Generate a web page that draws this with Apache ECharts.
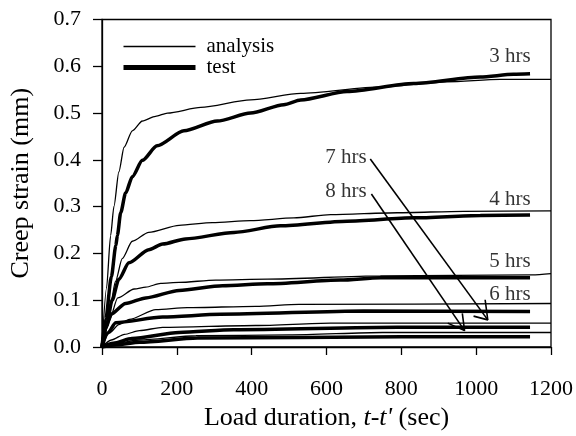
<!DOCTYPE html>
<html><head><meta charset="utf-8">
<script src="https://cdn.jsdelivr.net/npm/echarts@6/dist/echarts.min.js"></script>
<style>html,body{margin:0;padding:0;background:#fff}#c{width:576px;height:436px}</style>
</head><body><div id="c"></div>
<script>
// x tick labels (sec) and y tick labels (mm)
const xTicks = [0, 200, 400, 600, 800, 1000, 1200];
const yTicks = [0.0, 0.1, 0.2, 0.3, 0.4, 0.5, 0.6, 0.7];

// analysis curves [t (sec), creep strain (mm)]
const analysis3h = [[0,0],[12,0.125],[23,0.238],[32,0.301],[45,0.374],[59,0.427],[81,0.462],[108,0.483],[143,0.493],[175,0.500],[264,0.512],[397,0.528],[531,0.542],[744,0.556],[922,0.567],[1064,0.572],[1200,0.572]];
const analysis4h = [[0,0],[12,0.05],[23,0.091],[36,0.140],[54,0.189],[81,0.226],[125,0.245],[206,0.260],[295,0.266],[397,0.270],[513,0.276],[611,0.283],[789,0.287],[966,0.290],[1200,0.291]];
const analysis5h = [[0,0],[19,0.055],[42,0.105],[86,0.124],[117,0.128],[157,0.136],[206,0.138],[304,0.143],[442,0.145],[744,0.152],[1150,0.154],[1200,0.157]];
const analysis6h = [[0,0],[20,0.030],[45,0.048],[73,0.059],[144,0.080],[228,0.084],[411,0.087],[526,0.091],[1200,0.093]];
const analysis7h = [[0,0],[25,0.015],[60,0.027],[100,0.035],[162,0.042],[411,0.046],[611,0.051],[1200,0.051]];
const analysis8h = [[0,0],[30,0.007],[100,0.015],[251,0.024],[500,0.026],[750,0.031],[1200,0.031]];

// test curves [t (sec), creep strain (mm)]
const test3h = [[0,0],[10,0.06],[25,0.15],[37,0.217],[41,0.238],[50,0.287],[63,0.329],[81,0.364],[108,0.399],[147,0.430],[219,0.462],[308,0.483],[397,0.500],[486,0.518],[531,0.528],[655,0.546],[833,0.563],[1011,0.577],[1100,0.583],[1144,0.584]];
const test4h = [[0,0],[12,0.045],[27,0.100],[45,0.145],[72,0.180],[125,0.208],[162,0.220],[223,0.231],[353,0.245],[477,0.259],[655,0.269],[833,0.276],[1011,0.281],[1144,0.282]];
const test5h = [[0,0],[10,0.04],[24,0.070],[63,0.093],[117,0.105],[206,0.121],[322,0.131],[442,0.135],[637,0.143],[744,0.148],[1144,0.148]];
const test6h = [[0,0],[15,0.030],[37,0.052],[162,0.064],[317,0.070],[699,0.077],[1144,0.076]];
const test7h = [[0,0],[30,0.008],[80,0.018],[206,0.031],[352,0.037],[789,0.042],[1144,0.042]];
const test8h = [[0,0],[40,0.005],[100,0.010],[255,0.019],[800,0.022],[1144,0.022]];

// annotation labels and arrows (data coordinates)
const curveLabels = [['3 hrs',1090,0.620],['4 hrs',1090,0.315],['5 hrs',1090,0.182],['6 hrs',1090,0.112],['7 hrs',652,0.406],['8 hrs',652,0.332]];
const arrow7h = [[717,0.402],[1031,0.058]];
const arrow7hHead = [[1024,0.101],[1031,0.058],[993,0.066]];
const arrow8h = [[720,0.327],[969,0.035]];
const arrow8hHead = [[963,0.072],[969,0.035],[924,0.051]];

const FONT = "'Liberation Serif','Times New Roman',serif";
const analysisSets = [analysis3h, analysis4h, analysis5h, analysis6h, analysis7h, analysis8h];
const testSets = [test3h, test4h, test5h, test6h, test7h, test8h];

const series = [];
testSets.forEach(d => series.push({
  name: 'test', type: 'line', data: d, symbol: 'none', smooth: 0.25, smoothMonotone: 'x',
  lineStyle: { color: '#000', width: 3.5 }, itemStyle: { color: '#000' }, z: 2, animation: false
}));
analysisSets.forEach(d => series.push({
  name: 'analysis', type: 'line', data: d, symbol: 'none', smooth: 0.25, smoothMonotone: 'x',
  lineStyle: { color: '#000', width: 1.3 }, itemStyle: { color: '#000' }, z: 3, animation: false
}));
[arrow7h, arrow7hHead, arrow8h, arrow8hHead].forEach(d => series.push({
  type: 'line', data: d, symbol: 'none', lineStyle: { color: '#000', width: 1.6 }, z: 5, animation: false, silent: true
}));
series.push({
  type: 'scatter', symbolSize: 0, z: 6, animation: false, silent: true,
  data: curveLabels.map(l => ({ name: l[0], value: [l[1], l[2]] })),
  label: { show: true, position: 'inside', formatter: p => p.name, color: '#000', fontFamily: FONT, fontSize: 21 }
});

const chart = echarts.init(document.getElementById('c'), null, { renderer: 'canvas' });
chart.setOption({
  backgroundColor: '#fff',
  animation: false,
  grid: { left: 101, right: 25, top: 19.5, bottom: 82.7, show: true, borderColor: '#000', borderWidth: 1.3, containLabel: false },
  legend: {
    data: [
      { name: 'analysis', itemStyle: { opacity: 0 }, lineStyle: { width: 1.5, color: '#000' } },
      { name: 'test', itemStyle: { opacity: 0 }, lineStyle: { width: 5, color: '#000' } }
    ],
    orient: 'vertical', left: 116, top: 31, itemWidth: 72, itemHeight: 14, itemGap: 0,
    itemStyle: { opacity: 0 },
    textStyle: { fontFamily: FONT, fontSize: 21, color: '#000', padding: [0, 0, 0, 6] }
  },
  xAxis: {
    type: 'value', min: xTicks[0], max: xTicks[xTicks.length - 1], interval: xTicks[1] - xTicks[0],
    name: "Load duration, {i|t-t'} (sec)", nameLocation: 'middle', nameGap: 58,
    nameTextStyle: { fontFamily: FONT, fontSize: 26, color: '#000', rich: { i: { fontFamily: FONT, fontSize: 26, fontStyle: 'italic', color: '#000' } } },
    axisLine: { lineStyle: { color: '#000', width: 1.3 } },
    axisTick: { inside: false, length: 8, lineStyle: { color: '#000', width: 1.3 } },
    axisLabel: { margin: 31, fontFamily: FONT, fontSize: 22, color: '#000', formatter: v => String(v) },
    splitLine: { show: false }
  },
  yAxis: {
    type: 'value', min: yTicks[0], max: yTicks[yTicks.length - 1], interval: 0.1,
    name: 'Creep strain (mm)', nameLocation: 'middle', nameGap: 68,
    nameTextStyle: { fontFamily: FONT, fontSize: 26, color: '#000' },
    axisLine: { lineStyle: { color: '#000', width: 1.3 } },
    axisTick: { inside: false, length: 9, lineStyle: { color: '#000', width: 1.3 } },
    axisLabel: { margin: 21, fontFamily: FONT, fontSize: 22, color: '#000', formatter: v => v.toFixed(1) },
    splitLine: { show: false }
  },
  series: series
});
</script></body></html>
